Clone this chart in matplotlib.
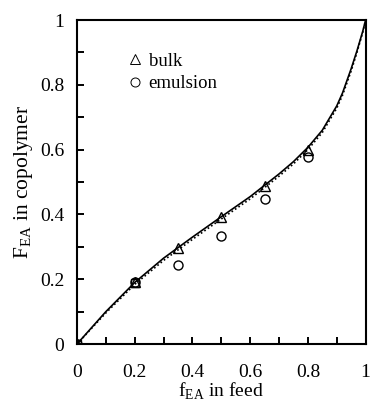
import matplotlib
matplotlib.use('Agg')
import matplotlib.pyplot as plt
from matplotlib.lines import Line2D

plt.rcParams['font.family'] = 'Liberation Serif'
plt.rcParams['mathtext.fontset'] = 'custom'
plt.rcParams['mathtext.rm'] = 'Liberation Serif'

# model curves
f_curve = [0, 0.1, 0.2, 0.3, 0.4, 0.5, 0.6, 0.7, 0.75, 0.8, 0.85, 0.9, 0.92, 0.95, 0.97, 0.99, 1.0]
F_solid = [0, 0.1, 0.19, 0.265, 0.33, 0.393, 0.455, 0.525, 0.563, 0.607, 0.66, 0.735, 0.775, 0.85, 0.905, 0.965, 1.0]
F_dotted = [0, 0.096, 0.184, 0.258, 0.323, 0.386, 0.448, 0.518, 0.556, 0.6, 0.653, 0.728, 0.768, 0.843, 0.9, 0.962, 1.0]

# experimental points
f_bulk = [0, 0.2, 0.35, 0.5, 0.65, 0.8]
F_bulk = [0, 0.19, 0.297, 0.392, 0.487, 0.6]
f_emul = [0, 0.2, 0.35, 0.5, 0.65, 0.8]
F_emul = [0, 0.19, 0.245, 0.335, 0.447, 0.577]
f_other = [0, 0.2]
F_other = [0, 0.188]

fig = plt.figure(figsize=(3.71, 4.01), dpi=100)
ax = fig.add_axes([0.2075, 0.142, 0.778, 0.808])

ax.plot(f_curve, F_solid, color='black', lw=1.2, zorder=3)
ax.plot(f_curve, F_dotted, color='black', lw=1.2, ls=(0, (1, 1.5)), zorder=2)
ax.plot(f_other, F_other, ls='none', marker='s', ms=6, mfc='none', mec='black', mew=1, zorder=4)
ax.plot(f_bulk, F_bulk, ls='none', marker='^', ms=6.5, mfc='none', mec='black', mew=1, zorder=4)
ax.plot(f_emul, F_emul, ls='none', marker='o', ms=6.5, mfc='none', mec='black', mew=1, zorder=4)

ax.set_xlim(0, 1)
ax.set_ylim(0, 1)
ax.set_xticks([0, 0.2, 0.4, 0.6, 0.8, 1])
ax.set_xticklabels(['0', '0.2', '0.4', '0.6', '0.8', '1'])
ax.set_yticks([0, 0.2, 0.4, 0.6, 0.8, 1])
ax.set_yticklabels(['0', '0.2', '0.4', '0.6', '0.8', '1'])
ax.set_xticks([0.1, 0.3, 0.5, 0.7, 0.9], minor=True)
ax.set_yticks([0.1, 0.3, 0.5, 0.7, 0.9], minor=True)
ax.tick_params(which='both', direction='in', length=5, width=1.4, labelsize=14)
ax.tick_params(axis='x', which='both', pad=14)
ax.tick_params(axis='y', which='both', pad=9)
for s in ax.spines.values():
    s.set_linewidth(1.5)

ax.set_xlabel(r'f$_{\mathregular{EA}}$ in feed', fontsize=14, labelpad=0)
ax.set_ylabel(r'F$_{\mathregular{EA}}$ in copolymer', fontsize=15.5, labelpad=4)

handles = [
    Line2D([], [], ls='none', marker='^', ms=6.5, mfc='none', mec='black', mew=0.7),
    Line2D([], [], ls='none', marker='o', ms=6.5, mfc='none', mec='black', mew=0.7),
]
ax.legend(handles, ['bulk', 'emulsion'], loc='upper left', bbox_to_anchor=(0.17, 0.90),
          frameon=False, fontsize=13.5, handletextpad=0.2, handlelength=1.0,
          labelspacing=0.3, borderaxespad=0, borderpad=0)

fig.savefig('out.png', dpi=100)
